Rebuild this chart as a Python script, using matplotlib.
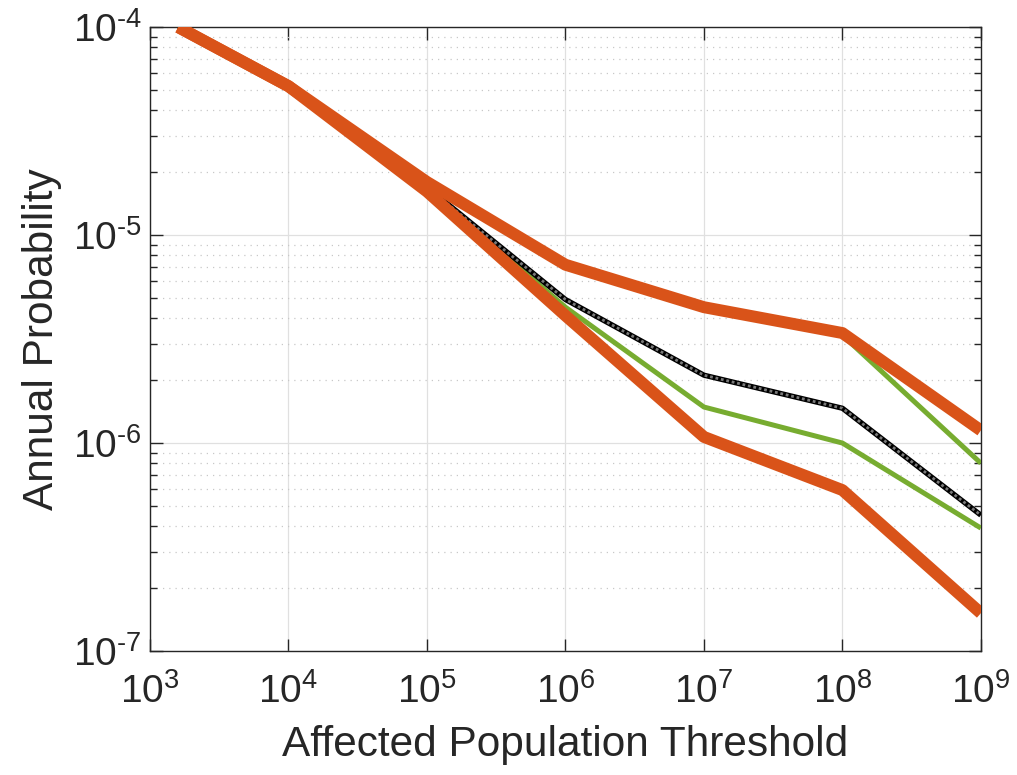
import matplotlib
matplotlib.use("Agg")
import numpy as np
import matplotlib.pyplot as plt
from matplotlib.ticker import LogLocator, NullLocator, FuncFormatter

plt.rcParams['font.family'] = ['Liberation Sans', 'DejaVu Sans']
plt.rcParams['mathtext.default'] = 'regular'

# Affected population thresholds
thresholds = [1.6e3, 1e4, 1e5, 1e6, 1e7, 1e8, 1e9]

# Annual exceedance probabilities
upper_bound = [1.0e-4, 5.2e-5, 1.80e-5, 7.2e-6, 4.5e-6, 3.38e-6, 1.15e-6]
upper_band = [1.0e-4, 5.2e-5, 1.75e-5, 7.0e-6, 4.4e-6, 3.30e-6, 8.0e-7]
median = [1.0e-4, 5.2e-5, 1.70e-5, 4.9e-6, 2.12e-6, 1.47e-6, 4.5e-7]
lower_band = [1.0e-4, 5.2e-5, 1.68e-5, 4.5e-6, 1.49e-6, 1.0e-6, 3.9e-7]
lower_bound = [1.0e-4, 5.2e-5, 1.62e-5, 4.1e-6, 1.07e-6, 5.94e-7, 1.52e-7]

x_ticks = [1e3, 1e4, 1e5, 1e6, 1e7, 1e8, 1e9]
y_ticks = [1e-7, 1e-6, 1e-5, 1e-4]

orange = '#D95319'
green = '#77AC30'
axis_col = '#262626'


def power_label(v, pos):
    e = int(round(np.log10(v)))
    exp = str(e).replace('-', '\u2010')
    return r'$10^{%s}$' % exp


fig = plt.figure(figsize=(10.17, 7.75), dpi=100)
ax = fig.add_axes([0.1475, 0.16, 0.817, 0.805])

ax.set_xscale('log')
ax.set_yscale('log')

ax.plot(thresholds, upper_band, color=green, lw=3.6, solid_capstyle='butt', zorder=3)
ax.plot(thresholds, lower_band, color=green, lw=3.6, solid_capstyle='butt', zorder=3)
ax.plot(thresholds, median, color='black', lw=3.8, solid_capstyle='butt', zorder=4)
ax.plot(thresholds, median, color='#7a7a7a', lw=2.0, linestyle=(0, (1, 1)), zorder=5)
ax.plot(thresholds, upper_bound, color=orange, lw=8.6, solid_capstyle='butt', zorder=6)
ax.plot(thresholds, lower_bound, color=orange, lw=8.6, solid_capstyle='butt', zorder=6)

ax.set_xlim(1e3, 1e9)
ax.set_ylim(1e-7, 1e-4)
ax.set_xticks(x_ticks)
ax.set_yticks(y_ticks)
ax.xaxis.set_major_formatter(FuncFormatter(power_label))
ax.yaxis.set_major_formatter(FuncFormatter(power_label))
ax.xaxis.set_minor_locator(NullLocator())
ax.yaxis.set_minor_locator(LogLocator(base=10, subs=range(2, 10)))

ax.grid(True, which='major', color='#e0e0e0', lw=0.9, linestyle='-')
ax.grid(True, which='minor', axis='y', color='#c8c8c8', lw=0.9, linestyle=(0, (1, 4)))
ax.set_axisbelow(True)

ax.tick_params(which='both', direction='in', top=True, right=True,
               colors=axis_col, labelsize=28, width=1.0)
ax.tick_params(which='major', length=9)
ax.tick_params(which='minor', length=5)
ax.tick_params(axis='x', pad=16)
ax.tick_params(axis='y', pad=6)
for s in ax.spines.values():
    s.set_color(axis_col)
    s.set_linewidth(1.0)

ax.set_xlabel('Affected Population Threshold', fontsize=30.5, color=axis_col, labelpad=10)
ax.set_ylabel('Annual Probability', fontsize=30.5, color=axis_col, labelpad=8)

fig.savefig('out.png', dpi=100)
